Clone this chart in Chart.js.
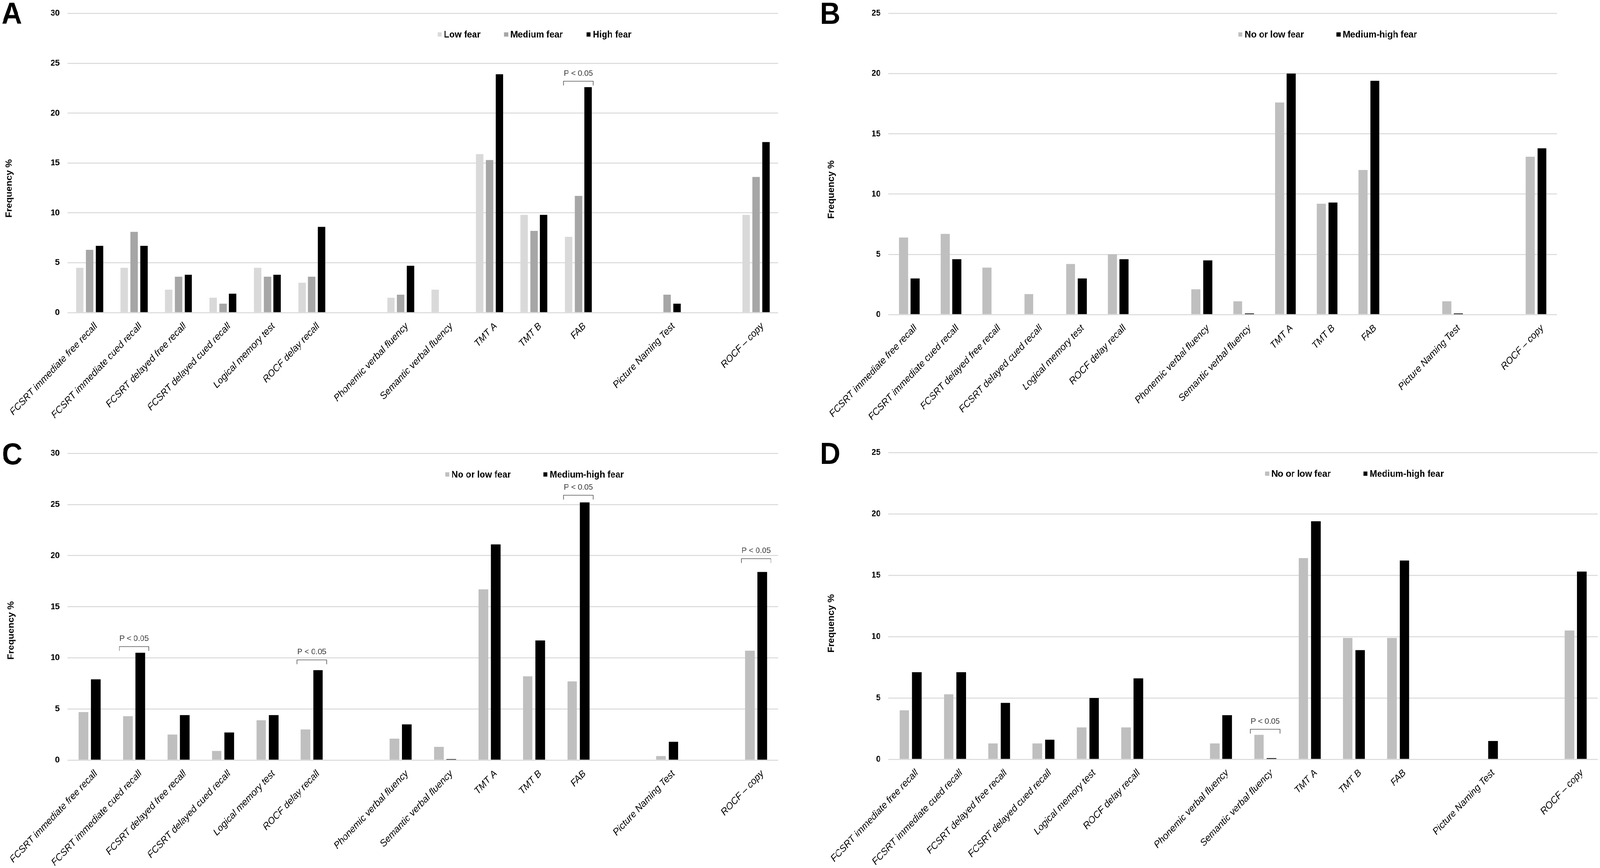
<!DOCTYPE html>
<html>
<head>
<meta charset="utf-8">
<script src="https://cdn.jsdelivr.net/npm/chart.js@4.4.1/dist/chart.umd.min.js"></script>
<style>
  html, body { margin: 0; padding: 0; background: #fff; overflow: hidden; }
  #stage { width: 4317px; height: 2221px; position: absolute; left: 0; top: 0; transform-origin: 0 0; }
  canvas { position: absolute; }
</style>
</head>
<body>
<div id="stage">
<canvas id="chartA"></canvas>
<canvas id="chartB"></canvas>
<canvas id="chartC"></canvas>
<canvas id="chartD"></canvas>
</div>
<script>
const FONT = '"Liberation Sans", Arial, sans-serif';

const categories = [
  'FCSRT immediate free recall', 'FCSRT immediate cued recall', 'FCSRT delayed free recall',
  'FCSRT delayed cued recall', 'Logical memory test', 'ROCF delay recall', '',
  'Phonemic verbal fluency', 'Semantic verbal fluency', 'TMT A', 'TMT B', 'FAB', '',
  'Picture Naming Test', '', 'ROCF \u2013 copy'
];
const ticks30 = [0, 5, 10, 15, 20, 25, 30];
const ticks25 = [0, 5, 10, 15, 20, 25];

// panel A: three fear levels
const namesA = ['Low fear', 'Medium fear', 'High fear'];
const lowFearA    = [4.5, 4.5, 2.3, 1.5, 4.5, 3.0, null, 1.5, 2.3, 15.9, 9.8, 7.6, null, 0, null, 9.8];
const mediumFearA = [6.3, 8.1, 3.6, 0.9, 3.6, 3.6, null, 1.8, 0, 15.3, 8.2, 11.7, null, 1.8, null, 13.6];
const highFearA   = [6.7, 6.7, 3.8, 1.9, 3.8, 8.6, null, 4.7, 0, 23.9, 9.8, 22.6, null, 0.9, null, 17.1];

// panels B, C, D: two groups
const names2 = ['No or low fear', 'Medium-high fear'];
const noLowB   = [6.4, 6.7, 3.9, 1.7, 4.2, 5.0, null, 2.1, 1.1, 17.6, 9.2, 12.0, null, 1.1, null, 13.1];
const medHighB = [3.0, 4.6, 0, 0, 3.0, 4.6, null, 4.5, 0.1, 20.0, 9.3, 19.4, null, 0.1, null, 13.8];

const noLowC   = [4.7, 4.3, 2.5, 0.9, 3.9, 3.0, null, 2.1, 1.3, 16.7, 8.2, 7.7, null, 0.4, null, 10.7];
const medHighC = [7.9, 10.5, 4.4, 2.7, 4.4, 8.8, null, 3.5, 0.1, 21.1, 11.7, 25.2, null, 1.8, null, 18.4];

const noLowD   = [4.0, 5.3, 1.3, 1.3, 2.6, 2.6, null, 1.3, 2.0, 16.4, 9.9, 9.9, null, 0, null, 10.5];
const medHighD = [7.1, 7.1, 4.6, 1.6, 5.0, 6.6, null, 3.6, 0.1, 19.4, 8.9, 16.2, null, 1.5, null, 15.3];

// significance brackets: category index and bracket height
const notesA = [{ cat: 11, at: 23.2 }];
const notesB = [];
const notesC = [{ cat: 1, at: 11.1 }, { cat: 5, at: 9.8 }, { cat: 11, at: 25.9 }, { cat: 15, at: 19.7 }];
const notesD = [{ cat: 8, at: 2.45 }];

// the page is laid out on a 4317 x 2221 stage, fitted to the real viewport
const stage = document.getElementById('stage');
stage.style.transform = 'scale(' + (window.innerWidth / 4317) + ',' + (window.innerHeight / 2221) + ')';

const panelDeco = {
  id: 'panelDeco',
  afterDraw(chart, args, o) {
    const ctx = chart.ctx;
    const a = chart.chartArea;
    const xs = chart.scales.x;
    ctx.save();
    ctx.fillStyle = '#000';
    ctx.font = 'bold 77px ' + FONT;
    ctx.textAlign = 'left';
    ctx.textBaseline = 'alphabetic';
    ctx.fillText(o.letter, o.letterX, o.letterY);

    ctx.save();
    ctx.translate(o.titleX, o.titleY);
    ctx.rotate(-Math.PI / 2);
    ctx.font = 'bold 24px ' + FONT;
    ctx.textAlign = 'center';
    ctx.textBaseline = 'middle';
    ctx.fillText('Frequency %', 0, 0);
    ctx.restore();

    // slanted category labels, ending at the tick
    ctx.font = 'italic 25px ' + FONT;
    ctx.textAlign = 'right';
    ctx.textBaseline = 'top';
    chart.data.labels.forEach((lab, i) => {
      if (!lab) return;
      ctx.save();
      ctx.translate(xs.getPixelForTick(i) + 8, a.bottom + 22);
      ctx.rotate(-Math.PI / 4);
      ctx.fillText(lab, 0, 0);
      ctx.restore();
    });

    // legend inside the plot area
    ctx.font = 'bold 24px ' + FONT;
    ctx.textAlign = 'left';
    ctx.textBaseline = 'middle';
    const box = 11, sp = 6;
    const items = chart.data.datasets.map(d => ({ label: d.label, color: d.backgroundColor, w: ctx.measureText(d.label).width }));
    const total = items.reduce((s, it) => s + box + sp + it.w, 0) + o.legendGap * (items.length - 1);
    let x = a.left + a.width * 0.657 - total / 2;
    const y = a.top + 54;
    items.forEach(it => {
      ctx.fillStyle = it.color;
      ctx.fillRect(x, y - box / 2, box, box);
      ctx.fillStyle = '#000';
      ctx.fillText(it.label, x + box + sp, y + 1);
      x += box + sp + it.w + o.legendGap;
    });

    // P < 0.05 brackets
    o.notes.forEach(n => {
      const cx = xs.getPixelForValue(n.cat);
      const by = chart.scales.y.getPixelForValue(n.at);
      ctx.strokeStyle = '#555';
      ctx.lineWidth = 1.6;
      ctx.beginPath();
      ctx.moveTo(cx - 40, by + 11);
      ctx.lineTo(cx - 40, by);
      ctx.lineTo(cx + 40, by);
      ctx.lineTo(cx + 40, by + 11);
      ctx.stroke();
      ctx.fillStyle = '#3a3a3a';
      ctx.font = '21px ' + FONT;
      ctx.textAlign = 'center';
      ctx.fillText('P < 0.05', cx, by - 20);
    });
    ctx.restore();
  }
};

function makePanel(id, p) {
  const cv = document.getElementById(id);
  cv.width = p.w;
  cv.height = p.h;
  cv.style.left = p.left + 'px';
  cv.style.top = p.top + 'px';
  cv.style.width = p.w + 'px';
  cv.style.height = p.h + 'px';
  const cp = p.series.length === 3 ? 0.66 : 0.56;
  const bp = p.series.length === 3 ? 0.76 : 0.77;
  return new Chart(cv.getContext('2d'), {
    type: 'bar',
    data: {
      labels: categories,
      datasets: p.series.map((d, i) => ({
        label: p.names[i],
        data: d,
        backgroundColor: p.colors[i],
        borderWidth: 0,
        categoryPercentage: cp,
        barPercentage: bp
      }))
    },
    options: {
      responsive: false,
      animation: false,
      devicePixelRatio: 1,
      layout: { padding: { left: 0, top: p.padTop, right: p.padRight, bottom: 0 } },
      plugins: {
        legend: { display: false },
        tooltip: { enabled: false },
        panelDeco: {
          letter: p.letter, letterX: p.letterX, letterY: p.letterY,
          titleX: p.titleX, titleY: p.titleY,
          legendGap: p.legendGap, notes: p.notes
        }
      },
      scales: {
        x: {
          grid: { display: false },
          border: { display: false },
          ticks: { display: false, autoSkip: false },
          afterFit: s => { s.height = p.xH; }
        },
        y: {
          min: 0,
          max: p.ticks[p.ticks.length - 1],
          afterBuildTicks: s => { s.ticks = p.ticks.map(v => ({ value: v })); },
          grid: { color: '#d9d9d9', lineWidth: 2.5, drawTicks: false },
          border: { display: false },
          ticks: { padding: 21, color: '#000', font: { family: FONT, size: 22, weight: 'bold' } },
          afterFit: s => { s.width = p.yW; }
        }
      }
    },
    plugins: [panelDeco]
  });
}

makePanel('chartA', {
  left: 0, top: 0, w: 2158, h: 1110, padTop: 16, padRight: 58, yW: 182, xH: 310,
  series: [lowFearA, mediumFearA, highFearA], names: namesA,
  colors: ['#d9d9d9', '#a6a6a6', '#000000'], ticks: ticks30,
  letter: 'A', letterX: 4, letterY: 61, titleX: 25, titleY: 482, legendGap: 64, notes: notesA
});
makePanel('chartB', {
  left: 2158, top: 0, w: 2159, h: 1110, padTop: 16, padRight: 116, yW: 239, xH: 305,
  series: [noLowB, medHighB], names: names2,
  colors: ['#bfbfbf', '#000000'], ticks: ticks25,
  letter: 'B', letterX: 54, letterY: 61, titleX: 85, titleY: 485, legendGap: 88, notes: notesB
});
makePanel('chartC', {
  left: 0, top: 1110, w: 2158, h: 1111, padTop: 50, padRight: 58, yW: 182, xH: 276,
  series: [noLowC, medHighC], names: names2,
  colors: ['#bfbfbf', '#000000'], ticks: ticks30,
  letter: 'C', letterX: 5, letterY: 78, titleX: 30, titleY: 503, legendGap: 88, notes: notesC
});
makePanel('chartD', {
  left: 2158, top: 1110, w: 2159, h: 1111, padTop: 48, padRight: 6, yW: 239, xH: 278,
  series: [noLowD, medHighD], names: names2,
  colors: ['#bfbfbf', '#000000'], ticks: ticks25,
  letter: 'D', letterX: 54, letterY: 77, titleX: 85, titleY: 485, legendGap: 88, notes: notesD
});
</script>
</body>
</html>
